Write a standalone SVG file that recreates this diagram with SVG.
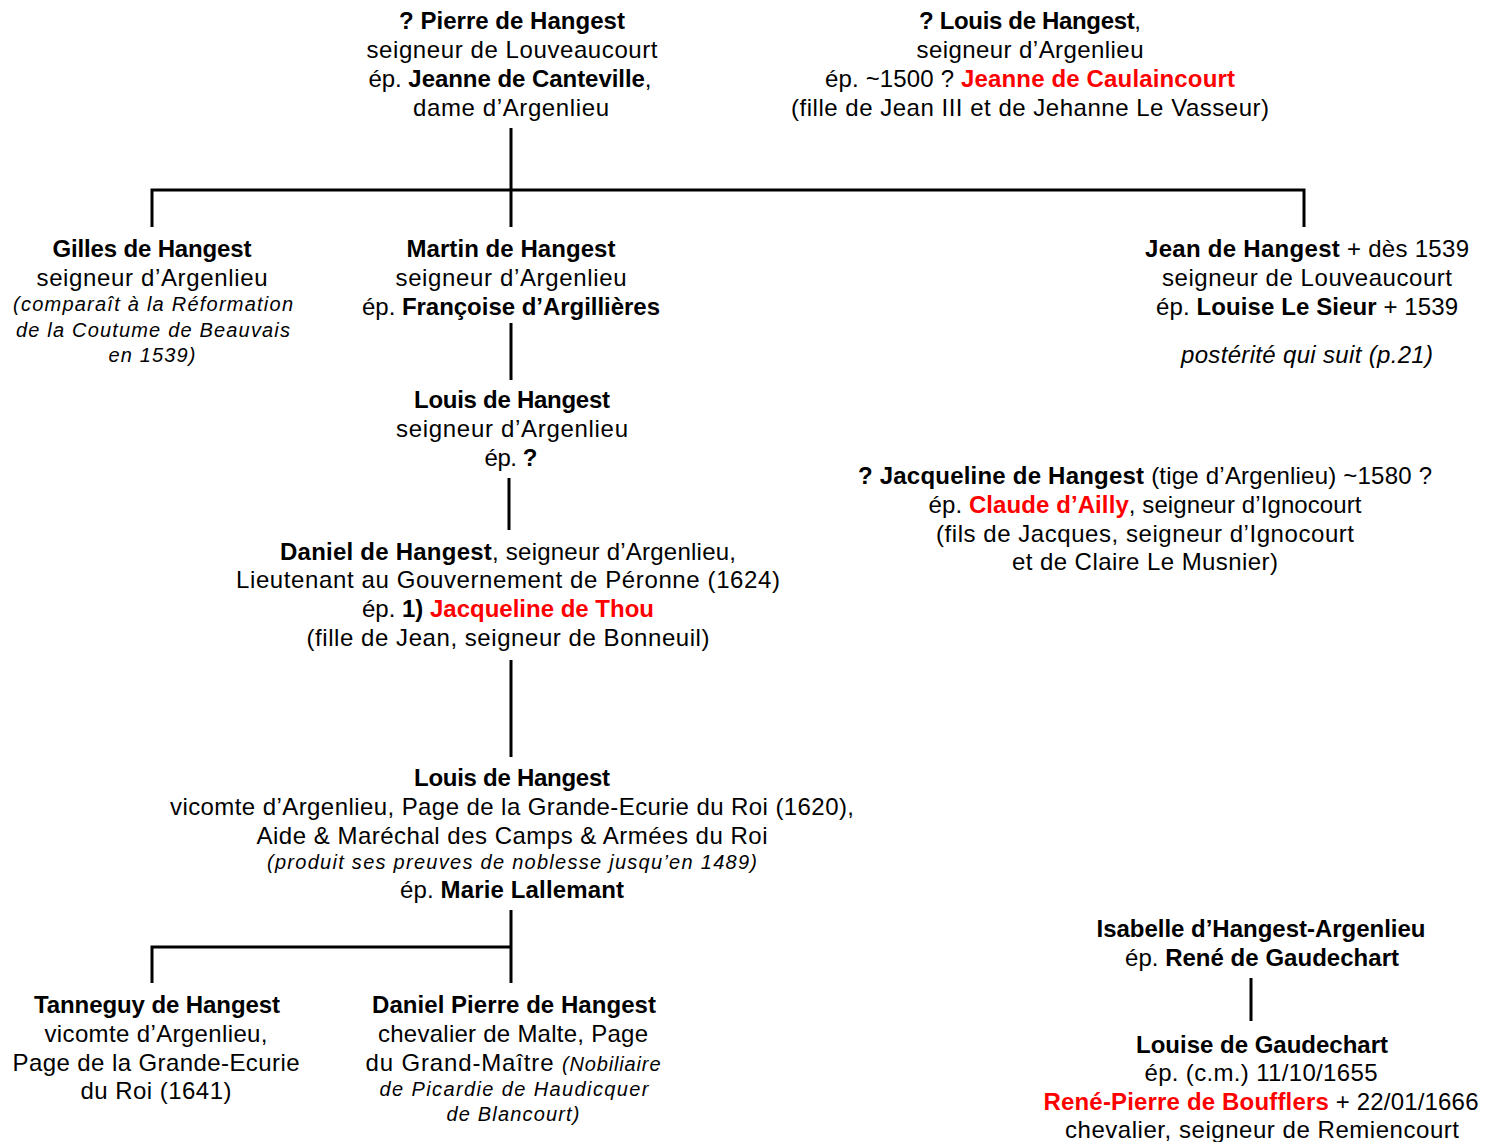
<svg xmlns="http://www.w3.org/2000/svg" width="1485" height="1142" viewBox="0 0 1485 1142">
<style>
text{font-family:"Liberation Sans",Arial,sans-serif;font-size:24px;fill:#000;text-anchor:middle}
.b{font-weight:bold}
.i{font-style:italic;font-size:20px}
.i24{font-style:italic}
.r{fill:#ff0000;font-weight:bold}
.c{stroke:#000;stroke-width:3;fill:none}
</style>
<rect width="1485" height="1142" fill="#fff"/>
<g id="connectors">
<path class="c" d="M511,128V227M152,227V190H1304V227"/>
<path class="c" d="M511,323V380"/>
<path class="c" d="M509,478V530"/>
<path class="c" d="M511,660V757"/>
<path class="c" d="M511,910V983M152,983V947H511"/>
<path class="c" d="M1251,978V1021"/>
</g>
<g id="pierre">
<text x="512" y="29" textLength="226" class="b">? Pierre de Hangest</text>
<text x="512" y="58" textLength="291">seigneur  de  Louveaucourt</text>
<text x="510" y="87" textLength="283">ép. <tspan class="b">Jeanne de Canteville</tspan>,</text>
<text x="511" y="116" textLength="196">dame  d’Argenlieu</text>
</g>
<g id="louis1">
<text x="1030" y="29" textLength="222"><tspan class="b">? Louis de Hangest</tspan>,</text>
<text x="1030" y="58" textLength="227">seigneur  d’Argenlieu</text>
<text x="1030" y="87" textLength="410">ép. ~1500 ? <tspan class="r">Jeanne de Caulaincourt</tspan></text>
<text x="1030" y="116" textLength="478">(fille de Jean III et  de Jehanne Le Vasseur)</text>
</g>
<g id="gilles">
<text x="152" y="257" textLength="199" class="b">Gilles de Hangest</text>
<text x="152" y="286" textLength="231">seigneur  d’Argenlieu</text>
<text x="153" y="311" textLength="280" class="i">(comparaît à la Réformation</text>
<text x="153" y="337" textLength="274" class="i">de la Coutume de Beauvais</text>
<text x="152" y="362" textLength="87" class="i">en 1539)</text>
</g>
<g id="martin">
<text x="511" y="257" textLength="209" class="b">Martin de Hangest</text>
<text x="511" y="286" textLength="231">seigneur  d’Argenlieu</text>
<text x="511" y="315" textLength="298">ép. <tspan class="b">Françoise d’Argillières</tspan></text>
</g>
<g id="jean">
<text x="1307" y="257" textLength="324"><tspan class="b">Jean de Hangest</tspan> + dès 1539</text>
<text x="1307" y="286" textLength="290">seigneur  de  Louveaucourt</text>
<text x="1307" y="315" textLength="302">ép. <tspan class="b">Louise Le Sieur</tspan> + 1539</text>
<text x="1307" y="363" textLength="252" class="i24">postérité qui suit (p.21)</text>
</g>
<g id="louis2">
<text x="512" y="408" textLength="196" class="b">Louis de Hangest</text>
<text x="512" y="437" textLength="232">seigneur  d’Argenlieu</text>
<text x="511" y="466" textLength="53">ép. <tspan class="b">?</tspan></text>
</g>
<g id="jacqueline">
<text x="1145" y="484" textLength="574"><tspan class="b">? Jacqueline de Hangest</tspan> (tige d’Argenlieu) ~1580 ?</text>
<text x="1145" y="513" textLength="433">ép. <tspan class="r">Claude d’Ailly</tspan>, seigneur d’Ignocourt</text>
<text x="1145" y="542" textLength="418">(fils  de  Jacques, seigneur  d’Ignocourt</text>
<text x="1145" y="570" textLength="266">et de Claire Le Musnier)</text>
</g>
<g id="daniel">
<text x="508" y="560" textLength="456"><tspan class="b">Daniel de Hangest</tspan>, seigneur d’Argenlieu,</text>
<text x="508" y="588" textLength="544">Lieutenant  au Gouvernement de Péronne (1624)</text>
<text x="508" y="617" textLength="292">ép. <tspan class="b">1)</tspan> <tspan class="r">Jacqueline de Thou</tspan></text>
<text x="508" y="646" textLength="403">(fille de Jean, seigneur de Bonneuil)</text>
</g>
<g id="louis3">
<text x="512" y="786" textLength="196" class="b">Louis de Hangest</text>
<text x="512" y="815" textLength="684">vicomte d’Argenlieu, Page de la Grande-Ecurie du Roi (1620),</text>
<text x="512" y="844" textLength="511">Aide &amp; Maréchal des Camps &amp; Armées du Roi</text>
<text x="512" y="869" textLength="490" class="i">(produit ses preuves de noblesse jusqu’en 1489)</text>
<text x="512" y="898" textLength="224">ép. <tspan class="b">Marie Lallemant</tspan></text>
</g>
<g id="tanneguy">
<text x="157" y="1013" textLength="246" class="b">Tanneguy de Hangest</text>
<text x="156" y="1042" textLength="223">vicomte  d’Argenlieu,</text>
<text x="156" y="1071" textLength="287">Page de la Grande-Ecurie</text>
<text x="156" y="1099" textLength="151">du Roi (1641)</text>
</g>
<g id="danielpierre">
<text x="514" y="1013" textLength="284" class="b">Daniel Pierre de Hangest</text>
<text x="513" y="1042" textLength="270">chevalier de Malte, Page</text>
<text x="513" y="1071" textLength="295">du  Grand-Maître <tspan class="i">(Nobiliaire</tspan></text>
<text x="514" y="1096" textLength="269" class="i">de Picardie de Haudicquer</text>
<text x="513" y="1121" textLength="133" class="i">de Blancourt)</text>
</g>
<g id="isabelle">
<text x="1261" y="937" textLength="329" class="b">Isabelle d’Hangest-Argenlieu</text>
<text x="1262" y="966" textLength="274">ép. <tspan class="b">René de Gaudechart</tspan></text>
</g>
<g id="louise">
<text x="1262" y="1053" textLength="252" class="b">Louise de Gaudechart</text>
<text x="1261" y="1081" textLength="233">ép. (c.m.) 11/10/1655</text>
<text x="1261" y="1110" textLength="435"><tspan class="r">René-Pierre de Boufflers</tspan> + 22/01/1666</text>
<text x="1262" y="1138" textLength="394">chevalier,  seigneur  de  Remiencourt</text>
</g>
</svg>
